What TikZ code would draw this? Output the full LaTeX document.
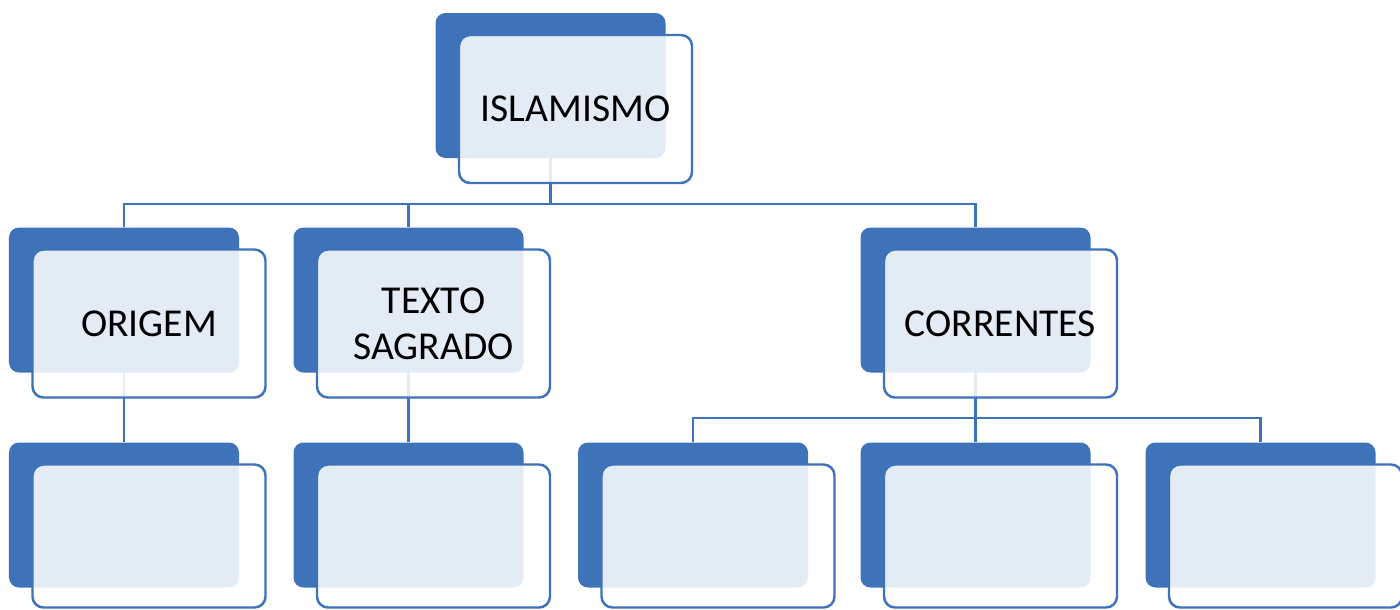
\documentclass[tikz,border=0pt]{standalone}
\usepackage{fontspec}
\setmainfont{Carlito}
\usetikzlibrary{backgrounds}
\definecolor{boxblue}{RGB}{62,115,185}
\tikzset{
  back/.style={fill=boxblue, rounded corners=0.2cm, minimum width=4.6cm, minimum height=2.9cm, inner sep=0pt},
  front/.style={draw=boxblue, line width=1.4pt, fill=white, fill opacity=0.86, text opacity=1,
    rounded corners=0.22cm, minimum width=4.66cm, minimum height=2.96cm, inner sep=0pt,
    xshift=0.5cm, yshift=-0.47cm, align=center, font=\fontsize{22.5}{26}\selectfont},
  frontlow/.style={front, minimum height=2.86cm, yshift=0.05cm},
  link/.style={draw=boxblue, line width=1.4pt}
}
\begin{document}
\begin{tikzpicture}
  \useasboundingbox (0,0) rectangle (28,-12.18);
  \coordinate (bus1) at (0,-4.08);
  \coordinate (bus2) at (0,-8.36);
  \node[back] (isl) at (11.01,-1.71) {};
  \node[back] (orig) at (2.48,-6.0) {};
  \node[back] (texto) at (8.17,-6.0) {};
  \node[back] (corr) at (19.51,-6.0) {};
  \node[back] (origA) at (2.48,-10.3) {};
  \node[back] (textoA) at (8.17,-10.3) {};
  \node[back] (corrA) at (13.86,-10.3) {};
  \node[back] (corrB) at (19.51,-10.3) {};
  \node[back] (corrC) at (25.21,-10.3) {};
  \node[front] (islF) at (isl) {ISLAMISMO};
  \node[front] (origF) at (orig) {ORIGEM};
  \node[front] (textoF) at (texto) {TEXTO\\SAGRADO};
  \node[front] (corrF) at (corr) {CORRENTES};
  \foreach \b in {origA,textoA,corrA,corrB,corrC} \node[frontlow] (\b F) at (\b) {};
  \begin{scope}[on background layer]
    \foreach \c in {orig,texto,corr} \draw[link] (isl.center) -- (isl.center |- bus1) -| (\c.north);
    \draw[link] (orig.center) -- (origA.north);
    \draw[link] (texto.center) -- (textoA.north);
    \foreach \c in {corrA,corrB,corrC} \draw[link] (corr.center) -- (corr.center |- bus2) -| (\c.north);
  \end{scope}
\end{tikzpicture}
\end{document}
